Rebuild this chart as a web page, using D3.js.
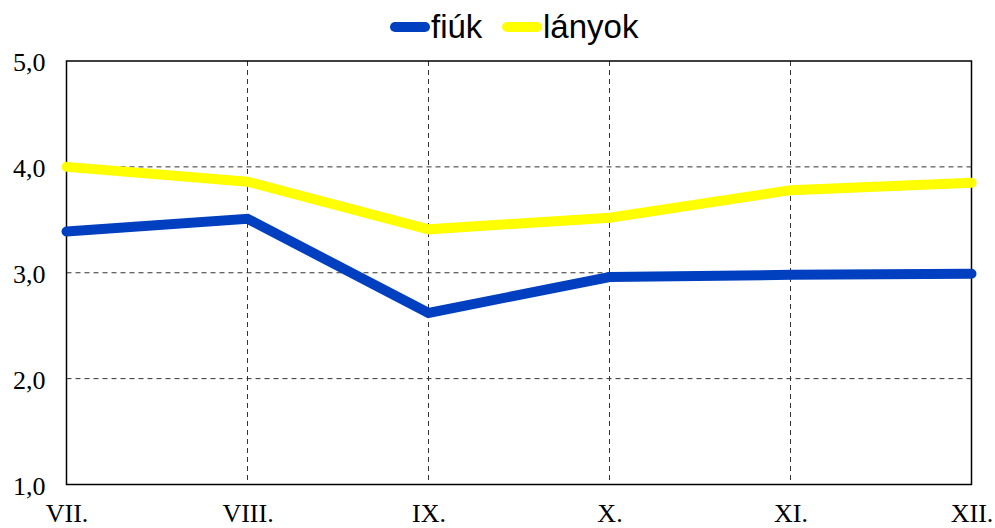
<!DOCTYPE html>
<html><head><meta charset="utf-8">
<script src="https://cdn.jsdelivr.net/npm/d3@7"></script>
<style>body{margin:0;background:#fff}</style>
</head><body>
<svg id="c" width="995" height="528"></svg>
<script>
const categories = ["VII.","VIII.","IX.","X.","XI.","XII."];
const fiuk   = [3.39, 3.51, 2.62, 2.96, 2.98, 2.99];
const lanyok = [4.00, 3.86, 3.41, 3.52, 3.78, 3.85];
const yTicks = [1,2,3,4,5];
const seriesNames = ["fiúk","lányok"];
const seriesColors = ["#0040C0","#FFFF00"];

const svg = d3.select("#c");
const L = 66.5, R = 971.5, T = 61, B = 484.5;
const x = d3.scalePoint().domain(categories).range([L, R]);
const y = d3.scaleLinear().domain([1,5]).range([B, T]);

// grid
const g = svg.append("g");
g.selectAll(".hg").data(yTicks.filter(d=>d>1&&d<5)).join("line")
  .attr("x1",L).attr("x2",R).attr("y1",d=>y(d)).attr("y2",d=>y(d))
  .attr("stroke","#333").attr("stroke-width",1).attr("stroke-dasharray","5,4");
g.selectAll(".vg").data(categories.slice(1,-1)).join("line")
  .attr("x1",d=>x(d)).attr("x2",d=>x(d)).attr("y1",T).attr("y2",B)
  .attr("stroke","#333").attr("stroke-width",1).attr("stroke-dasharray","5,4");

// frame
svg.append("rect").attr("x",L).attr("y",T).attr("width",R-L).attr("height",B-T)
  .attr("fill","none").attr("stroke","#000").attr("stroke-width",1.5);

// axes labels
const yAxis = d3.axisLeft(y).tickValues(yTicks).tickSize(0).tickPadding(21)
  .tickFormat(d=>d3.format(".1f")(d).replace(".",","));
const ya = svg.append("g").attr("transform",`translate(${L},1.5)`).call(yAxis);
ya.select(".domain").remove();
ya.selectAll("text").attr("font-family","Liberation Serif, Times New Roman, serif")
  .attr("font-size",26).attr("fill","#000");

const xAxis = d3.axisBottom(x).tickSize(0).tickPadding(19);
const xa = svg.append("g").attr("transform",`translate(0,${B})`).call(xAxis);
xa.select(".domain").remove();
xa.selectAll("text").attr("font-family","Liberation Serif, Times New Roman, serif")
  .attr("font-size",26).attr("fill","#000");

// lines
const line = d3.line().x((d,i)=>x(categories[i])).y(d=>y(d));
[fiuk, lanyok].forEach((s,i)=>{
  svg.append("path").datum(s).attr("d",line).attr("fill","none")
    .attr("stroke",seriesColors[i]).attr("stroke-width",10)
    .attr("stroke-linecap","round").attr("stroke-linejoin","miter");
});

// legend
const legX = [390, 502];
seriesNames.forEach((n,i)=>{
  svg.append("line").attr("x1",legX[i]+5).attr("x2",legX[i]+35).attr("y1",27).attr("y2",27)
    .attr("stroke",seriesColors[i]).attr("stroke-width",10).attr("stroke-linecap","round");
  svg.append("text").attr("x",legX[i]+41).attr("y",38).text(n)
    .attr("font-family","Liberation Sans, Arial, sans-serif").attr("font-size",33).attr("fill","#000");
});
</script>
</body></html>
